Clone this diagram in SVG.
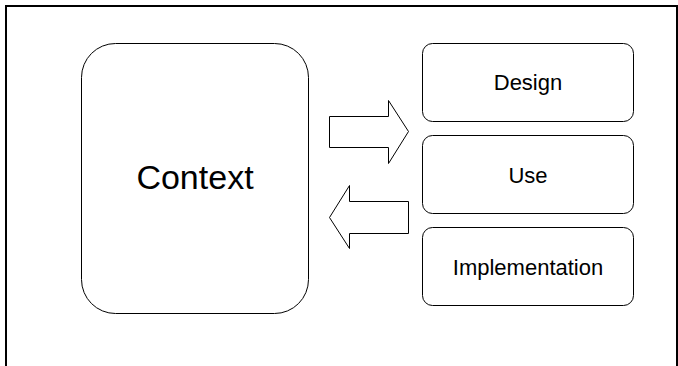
<svg xmlns="http://www.w3.org/2000/svg" width="678" height="366" viewBox="0 0 678 366">
<style>
.box{fill:#fff;stroke:#000;stroke-width:1}
.arrow{fill:#fff;stroke:#000;stroke-width:1;stroke-linejoin:miter}
.lbl{font-family:"Liberation Sans",Arial,sans-serif;fill:#000;text-anchor:middle}
</style>
<rect x="0" y="0" width="678" height="366" fill="#fff"/>
<rect x="6" y="6" width="671" height="400" fill="none" stroke="#000" stroke-width="2"/>
<g id="context">
<rect class="box" x="81.5" y="43.5" width="227" height="270" rx="34" ry="34"/>
<text class="lbl" x="195" y="189" font-size="34">Context</text>
</g>
<g id="design">
<rect class="box" x="422.5" y="43.5" width="211" height="78" rx="10" ry="10"/>
<text class="lbl" x="528" y="90" font-size="22">Design</text>
</g>
<g id="use">
<rect class="box" x="422.5" y="135.5" width="211" height="78" rx="10" ry="10"/>
<text class="lbl" x="528" y="183" font-size="22">Use</text>
</g>
<g id="implementation">
<rect class="box" x="422.5" y="227.5" width="211" height="78" rx="10" ry="10"/>
<text class="lbl" x="528" y="275" font-size="22">Implementation</text>
</g>
<g id="connectors">
<polygon class="arrow" points="329.5,116.5 388.5,116.5 388.5,100.5 408.5,131.5 388.5,163.5 388.5,147.5 329.5,147.5"/>
<polygon class="arrow" points="408.5,201.5 349.5,201.5 349.5,185.5 329.5,217.5 349.5,248.5 349.5,233.5 408.5,233.5"/>
</g>
</svg>
